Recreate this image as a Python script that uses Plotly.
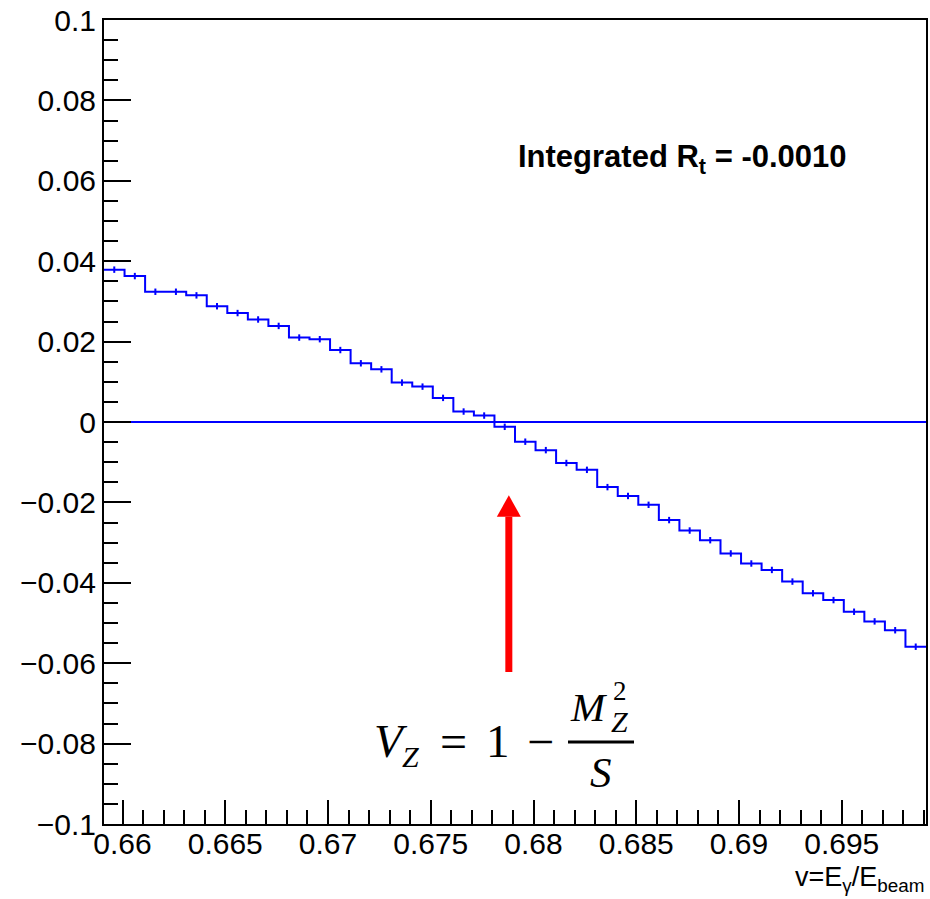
import numpy as np
import plotly.graph_objects as go

# ---------------- data ----------------
x_start = 0.6591
bin_width = 0.001
values = [0.0379, 0.0363, 0.0324, 0.0324, 0.0315, 0.0288, 0.0271, 0.0255, 0.0239, 0.0210,
          0.0206, 0.0179, 0.0146, 0.0131, 0.0098, 0.0088, 0.0060, 0.0026, 0.0016, -0.0012,
          -0.0049, -0.0070, -0.0102, -0.0119, -0.0162, -0.0184, -0.0206, -0.0244, -0.0270, -0.0294,
          -0.0327, -0.0352, -0.0368, -0.0397, -0.0426, -0.0443, -0.0472, -0.0496, -0.0518, -0.0559]
errors = [0.0008, 0.0008, 0.0008, 0.0008, 0.0008, 0.0008, 0.0008, 0.0008, 0.0008, 0.0008,
          0.0008, 0.0008, 0.0008, 0.0008, 0.0008, 0.0008, 0.0008, 0.0008, 0.0008, 0.0008,
          0.0008, 0.0008, 0.0008, 0.0008, 0.0008, 0.0008, 0.0008, 0.0008, 0.0008, 0.0008,
          0.0008, 0.0008, 0.0008, 0.0008, 0.0008, 0.0008, 0.0008, 0.0008, 0.0008, 0.0008]

x_tick_vals = [0.66, 0.665, 0.67, 0.675, 0.68, 0.685, 0.69, 0.695]
x_tick_text = ["0.66", "0.665", "0.67", "0.675", "0.68", "0.685", "0.69", "0.695"]
y_tick_vals = [0.1, 0.08, 0.06, 0.04, 0.02, 0, -0.02, -0.04, -0.06, -0.08, -0.1]
y_tick_text = ["0.1", "0.08", "0.06", "0.04", "0.02", "0", "\u22120.02", "\u22120.04",
               "\u22120.06", "\u22120.08", "\u22120.1"]
x_range = [0.6591, 0.6991]
y_range = [-0.1, 0.1]
v_z = 0.6788
integrated_text = "Integrated R<sub>t</sub> = -0.0010"
x_title = "v=E<sub>\u03b3</sub>/E<sub>beam</sub>"

# ---------------- geometry helpers ----------------
W, H = 930, 899
ML, MR, MT, MB = 104, 4, 20, 75
PW, PH = W - ML - MR, H - MT - MB


def px(xp):
    return (xp - ML) / PW


def py(yp):
    return (H - MB - yp) / PH


edges = x_start + bin_width * np.arange(len(values) + 1)
centers = edges[:-1] + bin_width / 2
BLUE = "#0000ff"

fig = go.Figure()
fig.add_trace(go.Scatter(x=edges, y=list(values) + [values[-1]], mode="lines",
                         line=dict(shape="hv", color=BLUE, width=2), hoverinfo="skip"))
fig.add_trace(go.Scatter(x=centers, y=values, mode="markers",
                         marker=dict(size=0.1, color=BLUE),
                         error_y=dict(type="data", array=errors, visible=True,
                                      color=BLUE, thickness=2, width=0),
                         hoverinfo="skip"))

fig.add_shape(type="line", xref="paper", yref="y", x0=0, x1=1, y0=0, y1=0,
              line=dict(color=BLUE, width=2), layer="below")

# red arrow
hw = 12 / PW * (x_range[1] - x_range[0])
y_tail, y_base, y_tip = -0.0622, -0.0236, -0.0182
fig.add_shape(type="line", xref="x", yref="y", x0=v_z, x1=v_z, y0=y_tail, y1=y_base,
              line=dict(color="#ff0000", width=7))
fig.add_shape(type="path", xref="x", yref="y",
              path=f"M {v_z - hw},{y_base} L {v_z + hw},{y_base} L {v_z},{y_tip} Z",
              fillcolor="#ff0000", line=dict(color="#ff0000", width=0))

SERIF = "Liberation Serif"
formula_parts = [
    ("<i>V</i>", 391, 741, 47),
    ("<i>Z</i>", 410, 756, 30),
    ("=", 453, 741, 48),
    ("1", 498, 741, 47),
    ("\u2212", 540, 741, 48),
    ("<i>M</i>", 589, 707, 41),
    ("2", 620, 691, 27),
    ("<i>Z</i>", 619, 721, 30),
    ("<i>S</i>", 601, 772, 43),
]
for txt, xp_, yp_, fs in formula_parts:
    fig.add_annotation(text=txt, xref="paper", yref="paper", x=px(xp_), y=py(yp_),
                       xanchor="center", yanchor="middle", showarrow=False,
                       font=dict(family=SERIF, size=fs, color="black"))
fig.add_shape(type="line", xref="paper", yref="paper", x0=px(568), x1=px(634),
              y0=py(742), y1=py(742), line=dict(color="black", width=3))

fig.add_annotation(text="<b>" + integrated_text + "</b>", xref="paper", yref="paper",
                   x=px(516), y=py(137), xanchor="left", yanchor="top", showarrow=False,
                   font=dict(family="Liberation Sans", size=31, color="black"))

fig.add_annotation(text=x_title, xref="paper", yref="paper", x=px(927), y=py(898),
                   xanchor="right", yanchor="bottom", showarrow=False,
                   font=dict(family="Liberation Sans", size=27, color="black"))

axis_common = dict(showline=True, linecolor="black", linewidth=2, mirror=True,
                   ticks="inside", tickwidth=2, tickcolor="black", showgrid=False,
                   zeroline=False, tickmode="array",
                   tickfont=dict(family="Liberation Sans", size=30, color="black"))

fig.update_layout(
    width=W, height=H, margin=dict(l=ML, r=MR, t=MT, b=MB, autoexpand=False),
    paper_bgcolor="white", plot_bgcolor="white", showlegend=False,
    xaxis=dict(range=x_range, tickvals=x_tick_vals, ticktext=x_tick_text, ticklen=24,
               ticklabelstandoff=-8,
               minor=dict(ticks="inside", ticklen=14, tickwidth=2, tickcolor="black",
                          dtick=0.001, tick0=0.66, showgrid=False),
               **axis_common),
    yaxis=dict(range=y_range, tickvals=y_tick_vals, ticktext=y_tick_text, ticklen=27,
               minor=dict(ticks="inside", ticklen=14, tickwidth=2, tickcolor="black",
                          dtick=0.005, tick0=0, showgrid=False),
               **axis_common),
)

fig.write_html("out.html", config={"displayModeBar": False})
